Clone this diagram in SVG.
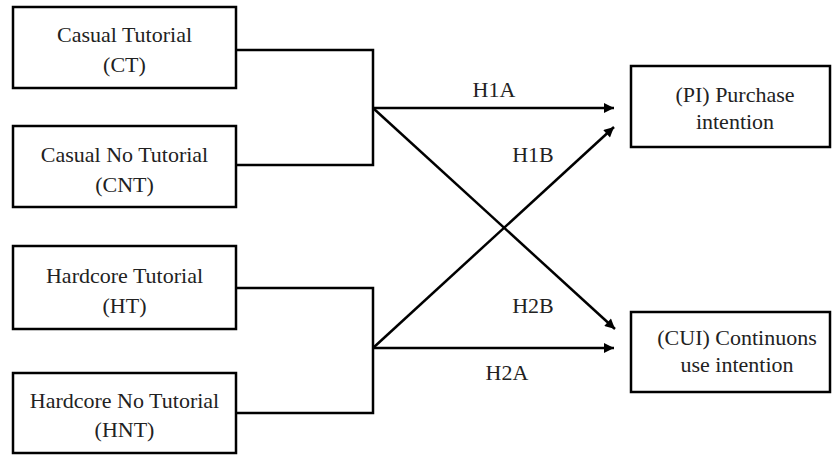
<svg xmlns="http://www.w3.org/2000/svg" width="833" height="457" viewBox="0 0 833 457">
<defs>
<style>
.box{fill:#fff;stroke:#000;stroke-width:2.5}
.t{font-family:"Liberation Serif","Times New Roman",serif;font-size:22px;fill:#222;text-anchor:middle}
.c{fill:none;stroke:#000;stroke-width:2.5}
</style>
<marker id="ah" viewBox="0 0 10 10" refX="10" refY="5" markerWidth="5" markerHeight="4" markerUnits="strokeWidth" orient="auto">
<path d="M0,0 L10,5 L0,10 Z" fill="#000"/>
</marker>
</defs>
<rect width="833" height="457" fill="#fff"/>
<g id="ct"><rect class="box" x="13" y="7" width="223" height="81"/><text class="t" x="124.5" y="42">Casual Tutorial</text><text class="t" x="124.5" y="72">(CT)</text></g>
<g id="cnt"><rect class="box" x="13" y="126" width="223" height="81"/><text class="t" x="124.5" y="162">Casual No Tutorial</text><text class="t" x="124.5" y="192">(CNT)</text></g>
<g id="ht"><rect class="box" x="13" y="246" width="223" height="83"/><text class="t" x="124.5" y="283">Hardcore Tutorial</text><text class="t" x="124.5" y="313">(HT)</text></g>
<g id="hnt"><rect class="box" x="13" y="373" width="223" height="80"/><text class="t" x="124.5" y="408">Hardcore No Tutorial</text><text class="t" x="124.5" y="437">(HNT)</text></g>
<g id="pi"><rect class="box" x="631" y="66" width="199" height="81"/><text class="t" x="735" y="102">(PI) Purchase</text><text class="t" x="735" y="129">intention</text></g>
<g id="cui"><rect class="box" x="631" y="312" width="199" height="80"/><text class="t" x="737" y="345">(CUI) Continuons</text><text class="t" x="737" y="372">use intention</text></g>
<g id="connectors">
<polyline class="c" points="236,50 373,50 373,165 236,165"/>
<polyline class="c" points="236,288 373,288 373,413 236,413"/>
<line class="c" x1="373" y1="108" x2="614" y2="108" marker-end="url(#ah)"/>
<line class="c" x1="373" y1="108" x2="615" y2="329" marker-end="url(#ah)"/>
<line class="c" x1="373" y1="348" x2="614" y2="127" marker-end="url(#ah)"/>
<line class="c" x1="373" y1="348" x2="614" y2="348" marker-end="url(#ah)"/>
<text class="t" x="494" y="97">H1A</text>
<text class="t" x="533" y="162">H1B</text>
<text class="t" x="533" y="313">H2B</text>
<text class="t" x="507" y="380">H2A</text>
</g>
</svg>
